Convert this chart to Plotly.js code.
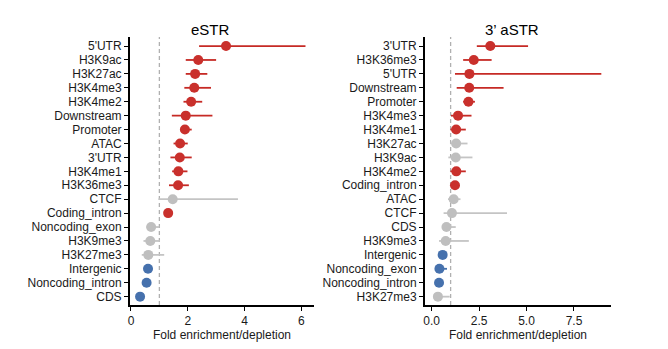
<!DOCTYPE html>
<html>
<head>
<meta charset="utf-8">
<script src="https://cdn.plot.ly/plotly-3.0.1.min.js"></script>
<style>html,body{margin:0;padding:0;background:#fff;}#chart{width:668px;height:349px;}</style>
</head>
<body>
<div id="chart"></div>
<script>
// eSTR panel
const eCat = ["5'UTR","H3K9ac","H3K27ac","H3K4me3","H3K4me2","Downstream","Promoter","ATAC","3'UTR","H3K4me1","H3K36me3","CTCF","Coding_intron","Noncoding_exon","H3K9me3","H3K27me3","Intergenic","Noncoding_intron","CDS"];
const eEst = [3.35,2.37,2.26,2.23,2.12,1.93,1.90,1.73,1.72,1.67,1.66,1.47,1.31,0.71,0.68,0.61,0.60,0.55,0.32];
const eLo  = [2.40,1.93,1.93,1.88,1.85,1.44,1.73,1.50,1.39,1.45,1.34,0.97,1.22,0.55,0.44,0.38,0.55,0.50,0.29];
const eHi  = [6.15,3.00,2.69,2.82,2.51,2.87,2.14,2.00,2.14,1.99,2.04,3.77,1.40,1.00,1.02,1.17,0.65,0.60,0.36];
const eSig = ["up","up","up","up","up","up","up","up","up","up","up","ns","up","ns","ns","ns","down","down","down"];

// 3' aSTR panel
const aCat = ["3'UTR","H3K36me3","5'UTR","Downstream","Promoter","H3K4me3","H3K4me1","H3K27ac","H3K9ac","H3K4me2","Coding_intron","ATAC","CTCF","CDS","H3K9me3","Intergenic","Noncoding_exon","Noncoding_intron","H3K27me3"];
const aEst = [3.09,2.22,1.99,1.98,1.94,1.39,1.29,1.29,1.27,1.30,1.23,1.16,1.07,0.78,0.74,0.58,0.41,0.39,0.33];
const aLo  = [2.38,1.66,1.23,1.32,1.66,1.02,0.99,0.99,0.88,0.99,1.15,0.86,0.63,0.57,0.39,0.52,0.30,0.33,0.11];
const aHi  = [5.08,3.16,8.94,3.79,2.28,2.10,1.80,1.89,2.15,1.80,1.32,1.52,3.97,1.27,1.96,0.65,0.81,0.45,0.95];
const aSig = ["up","up","up","up","up","up","up","ns","ns","up","up","ns","ns","ns","ns","down","down","down","ns"];

const panelTitles = ["eSTR", "3\u2019 aSTR"];
const xTitle = "Fold enrichment/depletion";

const groupColor = {up: "#c9302c", ns: "#bfbfbf", down: "#4671ad"};
const barColor = {up: "#c62a25", ns: "#c4c4c4", down: "#4671ad"};

function traces(cat, est, lo, hi, sig, xa, ya) {
  const out = [];
  ["ns", "down", "up"].forEach(g => {
    const idx = cat.map((c, i) => i).filter(i => sig[i] === g);
    if (!idx.length) return;
    out.push({
      type: "scatter", mode: "markers",
      x: idx.map(i => est[i]), y: idx.map(i => cat[i]),
      xaxis: xa, yaxis: ya,
      marker: {color: groupColor[g], size: 10, line: {width: 0}},
      error_x: {type: "data", symmetric: false,
        array: idx.map(i => hi[i] - est[i]),
        arrayminus: idx.map(i => est[i] - lo[i]),
        color: barColor[g], thickness: 1.8, width: 0},
      hoverinfo: "x+y", showlegend: false
    });
  });
  return out;
}

const data = [].concat(
  traces(eCat, eEst, eLo, eHi, eSig, "x", "y"),
  traces(aCat, aEst, aLo, aHi, aSig, "x2", "y2")
);

const W = 668, H = 349;
const font = {family: "Arial, 'Liberation Sans', sans-serif", size: 12, color: "#1a1a1a"};
const yTop = 1 - 37 / H, yBot = 1 - 305 / H;

function xaxis(d0, d1, range, tickvals, ticktext) {
  return {domain: [d0 / W, d1 / W], range: range, showgrid: false, zeroline: false,
    showline: true, linecolor: "#000", linewidth: 2, ticks: "outside", ticklen: 4,
    tickwidth: 1, tickcolor: "#000", tickmode: "array", tickvals: tickvals, ticktext: ticktext,
    tickfont: font,
    title: {text: xTitle, font: font, standoff: 0}};
}
function yaxis(cat, anchor) {
  return {domain: [yBot, yTop], type: "category", categoryarray: cat, categoryorder: "array",
    range: [cat.length - 1 + 0.6, -0.65], showgrid: false, zeroline: false,
    showline: true, linecolor: "#000", linewidth: 2, ticks: "outside", ticklen: 4,
    tickwidth: 1, tickcolor: "#000", tickfont: font, anchor: anchor, automargin: false,
    tickmode: "array", tickvals: cat, ticktext: cat};
}

const xa1 = xaxis(130, 314, [-0.035, 6.45], [0, 2, 4, 6], ["0", "2", "4", "6"]);
xa1.anchor = "y";
const xa2 = xaxis(425, 611, [-0.35, 9.45], [0, 2.5, 5, 7.5], ["0.0", "2.5", "5.0", "7.5"]);
xa2.anchor = "y2";

const layout = {
  width: W, height: H,
  margin: {l: 0, r: 0, t: 0, b: 0, autoexpand: false},
  paper_bgcolor: "#fff", plot_bgcolor: "#fff",
  font: font,
  xaxis: xa1, yaxis: yaxis(eCat, "x"),
  xaxis2: xa2, yaxis2: yaxis(aCat, "x2"),
  shapes: [
    {type: "line", xref: "x", yref: "y domain", x0: 1, x1: 1, y0: 0, y1: 1,
      line: {color: "#b0b0b0", width: 1.3, dash: "4px,3px"}, layer: "below"},
    {type: "line", xref: "x2", yref: "y2 domain", x0: 1, x1: 1, y0: 0, y1: 1,
      line: {color: "#b0b0b0", width: 1.3, dash: "4px,3px"}, layer: "below"}
  ],
  annotations: [
    {text: panelTitles[0], xref: "paper", yref: "paper", x: 210 / W, y: 1 - 29 / H,
      xanchor: "center", yanchor: "middle", showarrow: false,
      font: {family: font.family, size: 15, color: "#000"}},
    {text: panelTitles[1], xref: "paper", yref: "paper", x: 512 / W, y: 1 - 29 / H,
      xanchor: "center", yanchor: "middle", showarrow: false,
      font: {family: font.family, size: 15, color: "#000"}}
  ]
};

Plotly.newPlot("chart", data, layout, {displayModeBar: false, staticPlot: true});
</script>
</body>
</html>
